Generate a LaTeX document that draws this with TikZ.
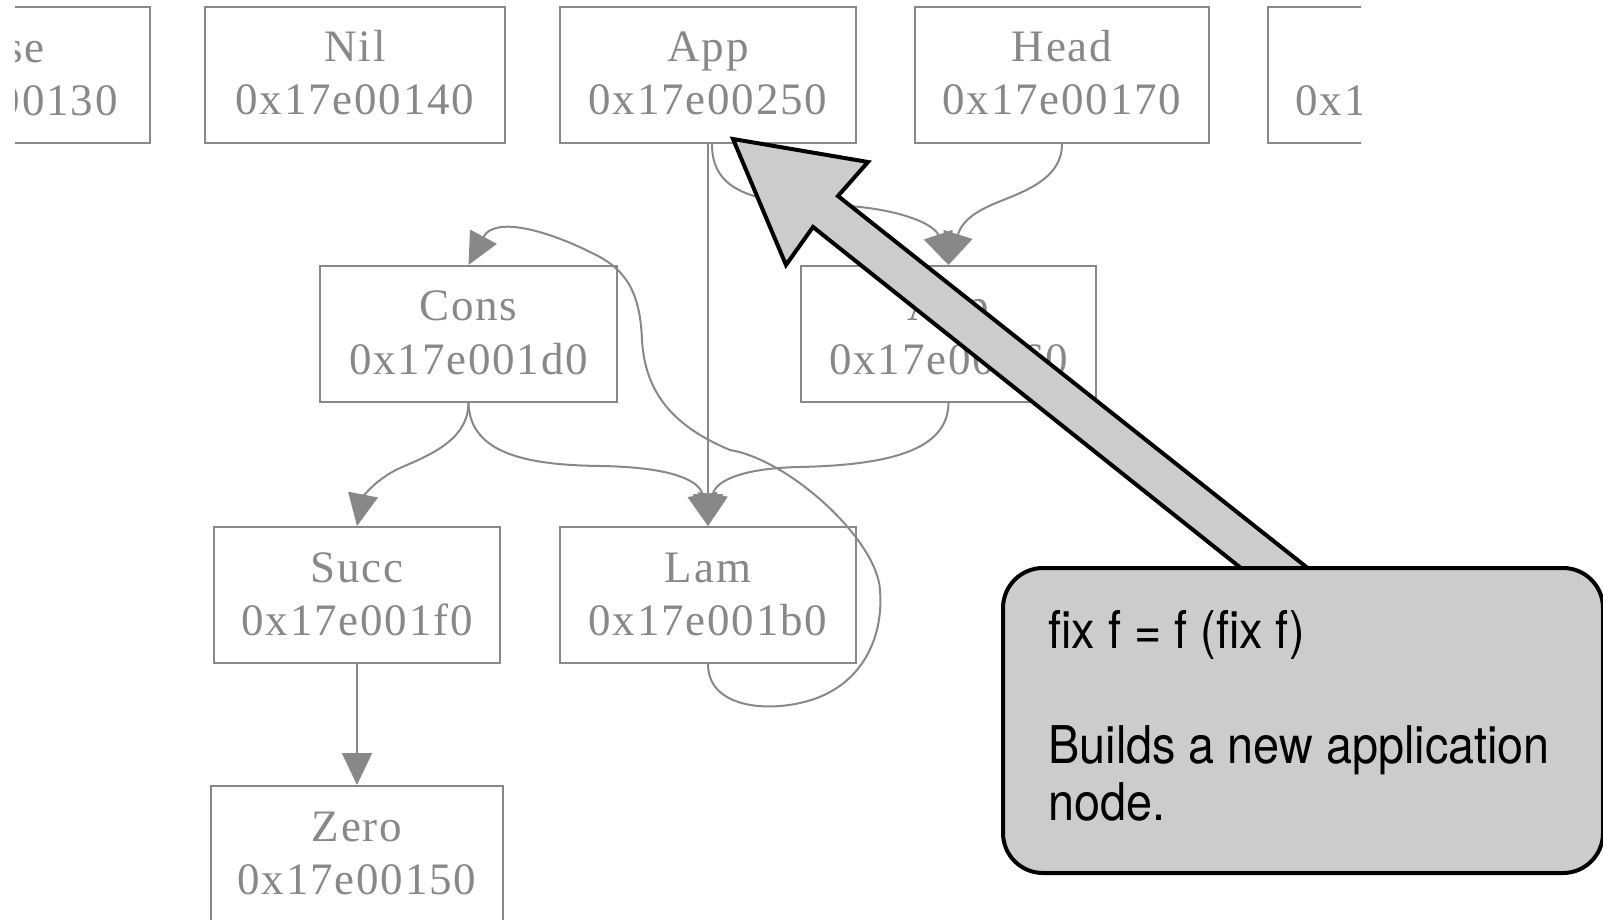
\documentclass[tikz,border=0pt]{standalone}
\usepackage{fontspec}
\usetikzlibrary{arrows.meta,calc}
\newfontfamily\cellfont[LetterSpace=4]{Liberation Serif}
\newfontfamily\notefont[FakeStretch=0.9]{TeX Gyre Heros}
\definecolor{edgegray}{HTML}{888888}
\definecolor{notefill}{HTML}{CCCCCC}

\begin{document}
\begin{tikzpicture}[x=0.5pt,y=-0.5pt,
  cell/.style={rectangle, draw=edgegray, line width=1pt, minimum height=68pt, inner sep=0pt},
  celltext/.style={anchor=base, inner sep=0pt, text=edgegray, font=\cellfont\fontsize{22.5}{26}\selectfont},
  ptr/.style={draw=edgegray, line width=1pt, -{Triangle[width=15pt,length=16pt]}},
  bigarrow/.style={draw=black, fill=notefill, line width=2pt, line join=miter},
  note/.style={rectangle, draw=black, fill=notefill, line width=2pt, rounded corners=20pt, inner sep=0pt},
  notetext/.style={anchor=base west, inner sep=0pt, text=black, font=\notefont\fontsize{26}{30}\selectfont}]

\useasboundingbox (0,0) rectangle (1603,920);

% heap cells cut off at the left and right edges
\begin{scope}
  \clip (15,0) rectangle (1361,920);
  \node[cell, minimum width=150pt] (lft) at (0,75) {};
  \node[celltext, anchor=base east] (lft-name) at (45,63) {se};
  \node[celltext, anchor=base east] (lft-addr) at (118,116) {00130};
  \node[cell, minimum width=147pt] (rgt) at (1415,75) {};
  \node[celltext, anchor=base west] (rgt-addr) at (1295,116) {0x1};
\end{scope}

% heap cells
\node[cell, minimum width=150pt] (nil) at (355,75) {};
\node[celltext] (nil-name) at ($(nil.north)+(0,56)$) {Nil};
\node[celltext] (nil-addr) at ($(nil.north)+(0,109)$) {0x17e00140};

\node[cell, minimum width=148pt] (app) at (708,75) {};
\node[celltext] (app-name) at ($(app.north)+(0,56)$) {App};
\node[celltext] (app-addr) at ($(app.north)+(0,109)$) {0x17e00250};

\node[cell, minimum width=147pt] (head) at (1062,75) {};
\node[celltext] (head-name) at ($(head.north)+(0,56)$) {Head};
\node[celltext] (head-addr) at ($(head.north)+(0,109)$) {0x17e00170};

\node[cell, minimum width=148.5pt] (cons) at (468.5,334) {};
\node[celltext] (cons-name) at ($(cons.north)+(0,56)$) {Cons};
\node[celltext] (cons-addr) at ($(cons.north)+(0,109)$) {0x17e001d0};

\node[cell, minimum width=147.5pt] (napp) at (948.5,334) {};
\node[celltext] (napp-name) at ($(napp.north)+(0,56)$) {App};
\node[celltext] (napp-addr) at ($(napp.north)+(0,109)$) {0x17e00260};

\node[cell, minimum width=143pt] (succ) at (357,595) {};
\node[celltext] (succ-name) at ($(succ.north)+(0,56)$) {Succ};
\node[celltext] (succ-addr) at ($(succ.north)+(0,109)$) {0x17e001f0};

\node[cell, minimum width=148pt] (lam) at (708,595) {};
\node[celltext] (lam-name) at ($(lam.north)+(0,56)$) {Lam};
\node[celltext] (lam-addr) at ($(lam.north)+(0,109)$) {0x17e001b0};

\node[cell, minimum width=146pt] (zero) at (357,854) {};
\node[celltext] (zero-name) at ($(zero.north)+(0,56)$) {Zero};
\node[celltext] (zero-addr) at ($(zero.north)+(0,109)$) {0x17e00150};

% pointers
\draw[ptr] (app.south) -- (lam.north);
\draw[ptr] ($(app.south)+(4,0)$) .. controls (712,190) and (750,203) .. (830,205)
           .. controls (900,207) and (935,225) .. (napp.north);
\draw[ptr] (head.south) .. controls (1062,185) and (1010,195) .. (985,208)
           .. controls (965,218) and (960,228) .. (napp.north);
\draw[ptr] (cons.south) .. controls (468,440) and (430,455) .. (400,468)
           .. controls (372,481) and (362,500) .. (succ.north);
\draw[ptr] (cons.south) .. controls (470,455) and (530,465) .. (600,466)
           .. controls (670,467) and (700,480) .. (lam.north);
\draw[ptr] (napp.south) .. controls (948,450) and (890,465) .. (800,467)
           .. controls (745,468) and (715,480) .. (lam.north);
\draw[ptr] (lam.south) .. controls (708,705) and (760,712) .. (800,703)
           .. controls (860,690) and (884,640) .. (880,590)
           .. controls (877,540) and (790,460) .. (730,450)
           .. controls (670,425) and (645,390) .. (642,340)
           .. controls (640,290) and (625,268) .. (590,252)
           .. controls (550,232) and (495,215) .. (cons.north);
\draw[ptr] (succ.south) -- (zero.north);

% callout pointing at the application cell
\draw[bigarrow] (733,139) -- (868,162) -- (838,196) -- (1348,600)
                -- (1281,600) -- (813,227) -- (786,265) -- cycle;
\node[note, minimum width=300pt, minimum height=152.5pt, anchor=north west] (note) at (1001,566) {};
\node[notetext] (note-l1) at (1048,648) {fix f = f (fix f)};
\node[notetext] (note-l2) at (1048,763) {Builds a new application};
\node[notetext] (note-l3) at (1048,820) {node.};

\end{tikzpicture}
\end{document}
